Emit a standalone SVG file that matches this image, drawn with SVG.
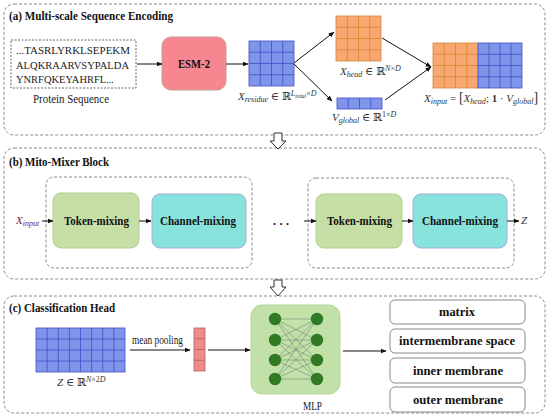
<svg xmlns="http://www.w3.org/2000/svg" width="550" height="419" viewBox="0 0 550 419" font-family="Liberation Serif, Times New Roman, serif">
<style>
.panel{fill:none;stroke:#8a8a8a;stroke-width:1;stroke-dasharray:3,2}
.title{font-family:Liberation Serif,Times New Roman,serif;font-weight:bold;font-size:12.5px;fill:#111}
.seq{font-family:Liberation Serif,Times New Roman,serif;font-size:11px;fill:#222}
.lbl{font-family:Liberation Serif,Times New Roman,serif;font-size:12px;fill:#222}
.bold{font-family:Liberation Serif,Times New Roman,serif;font-weight:bold;font-size:12px;fill:#111}
.m{font-family:Liberation Serif,DejaVu Serif,serif;font-size:11px;fill:#333}
.i{font-style:italic}
.conn{stroke:#111;stroke-width:1;fill:none;marker-end:url(#ah)}
.blue{fill:#7f95ea;stroke:#3f51c8;stroke-width:0.8}
.orange{fill:#faa872;stroke:#cf8a32;stroke-width:0.8}
.tok{fill:#c6dfa6;stroke:#b2cf90;stroke-width:1}
.chan{fill:#88e3dd;stroke:#a3addb;stroke-width:1}
.cls{fill:#fff;stroke:#8a8a8a;stroke-width:1}
.hollow{fill:#fff;stroke:#333;stroke-width:1}
</style>
<defs>
<marker id="ah" viewBox="0 0 10 10" refX="9" refY="5" markerWidth="6" markerHeight="6" orient="auto" markerUnits="userSpaceOnUse">
<path d="M0,1 L10,5 L0,9 z" fill="#111"/>
</marker>
</defs>
<rect width="550" height="419" fill="#fff"/>

<!-- Panels -->
<g id="panel-a">
<rect class="panel" x="4" y="4" width="541" height="131" rx="10"/>
<text class="title" x="9" y="20" textLength="164" lengthAdjust="spacingAndGlyphs">(a) Multi-scale Sequence Encoding</text>
</g>
<g id="panel-b">
<rect class="panel" x="4" y="148" width="541" height="131" rx="10"/>
<text class="title" x="9" y="166" textLength="100" lengthAdjust="spacingAndGlyphs">(b) Mito-Mixer Block</text>
<rect class="panel" x="46" y="177" width="206" height="91" rx="8"/>
<rect class="panel" x="308" y="178" width="206" height="90" rx="8"/>
</g>
<g id="panel-c">
<rect class="panel" x="4" y="296" width="541" height="117" rx="10"/>
<text class="title" x="9" y="312" textLength="106" lengthAdjust="spacingAndGlyphs">(c) Classification Head</text>
</g>

<!-- hollow arrows between panels -->
<g id="flow-arrows">
<polygon class="hollow" points="274,133 282,133 282,141 286,141 278,149 270,141 274,141"/>
<polygon class="hollow" points="274,280 282,280 282,287 286,287 278,296 270,287 274,287"/>
</g>

<!-- (a) nodes -->
<g id="sequence">
<rect x="11" y="40" width="125" height="48" fill="#fff" stroke="#666" stroke-width="1" stroke-dasharray="2,1.5"/>
<text class="seq" x="16" y="54" textLength="114" lengthAdjust="spacingAndGlyphs">...TASRLYRKLSEPEKM</text>
<text class="seq" x="16" y="68.5" textLength="113" lengthAdjust="spacingAndGlyphs">ALQKRAARVSYPALDA</text>
<text class="seq" x="16" y="83" textLength="98" lengthAdjust="spacingAndGlyphs">YNRFQKEYAHRFL...</text>
<text class="lbl" x="33" y="103" textLength="76" lengthAdjust="spacingAndGlyphs">Protein Sequence</text>
</g>
<g id="esm2">
<rect x="162" y="37" width="64" height="53" rx="9" fill="#f88690" stroke="#c99a8e" stroke-width="1"/>
<text class="bold" x="178" y="68" textLength="32" lengthAdjust="spacingAndGlyphs">ESM-2</text>
</g>
<g id="x-residue">
<rect class="blue" x="249" y="41" width="45" height="45"/>
<path d="M260.25,41V86M271.5,41V86M282.75,41V86M249,52.25H294M249,63.5H294M249,74.75H294" stroke="#3f51c8" stroke-width="0.8" fill="none"/>
<text class="m" x="238" y="100"><tspan class="i">X</tspan><tspan class="i" dy="2" font-size="8">residue</tspan><tspan dy="-2"> ∈ ℝ</tspan><tspan class="i" dy="-4" font-size="8">L</tspan><tspan class="i" dy="1.5" font-size="6">total</tspan><tspan dy="-1.5" font-size="8">×</tspan><tspan class="i" font-size="8">D</tspan></text>
</g>
<g id="x-head">
<rect class="orange" x="336" y="16" width="45" height="45"/>
<path d="M347.25,16V61M358.5,16V61M369.75,16V61M336,27.25H381M336,38.5H381M336,49.75H381" stroke="#cf8a32" stroke-width="0.8" fill="none"/>
<text class="m" x="340" y="75"><tspan class="i">X</tspan><tspan class="i" dy="2" font-size="8">head</tspan><tspan dy="-2"> ∈ ℝ</tspan><tspan class="i" dy="-4" font-size="8">N</tspan><tspan font-size="8">×</tspan><tspan class="i" font-size="8">D</tspan></text>
</g>
<g id="v-global">
<rect class="blue" x="337" y="98" width="45" height="11"/>
<path d="M348.25,98V109M359.5,98V109M370.75,98V109" stroke="#3f51c8" stroke-width="0.8" fill="none"/>
<text class="m" x="332" y="121"><tspan class="i">V</tspan><tspan class="i" dy="2" font-size="8">global</tspan><tspan dy="-2"> ∈ ℝ</tspan><tspan dy="-4" font-size="8">1×</tspan><tspan class="i" font-size="8">D</tspan></text>
</g>
<g id="x-input">
<rect class="orange" x="433" y="43" width="45" height="45" fill="#f4a86a"/>
<path d="M444.25,43V88M455.5,43V88M466.75,43V88M433,54.25H478M433,65.5H478M433,76.75H478" stroke="#cf8a32" stroke-width="0.8" fill="none"/>
<rect class="blue" x="478" y="43" width="44" height="45"/>
<path d="M489,43V88M500,43V88M511,43V88M478,54.25H522M478,65.5H522M478,76.75H522" stroke="#3f51c8" stroke-width="0.8" fill="none"/>
<text class="m" x="424" y="102"><tspan class="i">X</tspan><tspan class="i" dy="2" font-size="8">input</tspan><tspan dy="-2"> = </tspan><tspan font-size="14">[</tspan><tspan class="i">X</tspan><tspan class="i" dy="2" font-size="8">head</tspan><tspan dy="-2">; </tspan><tspan font-weight="bold">1</tspan><tspan> · </tspan><tspan class="i">V</tspan><tspan class="i" dy="2" font-size="8">global</tspan><tspan dy="-2" font-size="14">]</tspan></text>
</g>

<!-- (b) nodes -->
<g id="x-input-label">
<text class="m" x="16" y="224" fill="#7a2040"><tspan class="i" fill="#7a2040">X</tspan><tspan class="i" dy="2" font-size="8" fill="#7a2040">input</tspan></text>
</g>
<g id="token-1">
<rect class="tok" x="53" y="193" width="86" height="55" rx="8"/>
<text class="bold" x="64" y="225" textLength="65" lengthAdjust="spacingAndGlyphs">Token-mixing</text>
</g>
<g id="channel-1">
<rect class="chan" x="152" y="194" width="94" height="54" rx="8"/>
<text class="bold" x="160" y="225" textLength="76" lengthAdjust="spacingAndGlyphs">Channel-mixing</text>
</g>
<g id="ellipsis">
<text class="bold" x="273" y="225" textLength="16" lengthAdjust="spacing">...</text>
</g>
<g id="token-2">
<rect class="tok" x="316" y="194" width="86" height="54" rx="8"/>
<text class="bold" x="327" y="225" textLength="65" lengthAdjust="spacingAndGlyphs">Token-mixing</text>
</g>
<g id="channel-2">
<rect class="chan" x="413" y="194" width="94" height="54" rx="8"/>
<text class="bold" x="422" y="225" textLength="76" lengthAdjust="spacingAndGlyphs">Channel-mixing</text>
</g>
<g id="z-label">
<text class="m i" x="521" y="224">Z</text>
</g>

<!-- (c) nodes -->
<g id="z-grid">
<rect class="blue" x="36" y="328" width="89" height="44"/>
<path d="M47.125,328V372M58.25,328V372M69.375,328V372M80.5,328V372M91.625,328V372M102.75,328V372M113.875,328V372M36,339H125M36,350H125M36,361H125" stroke="#3f51c8" stroke-width="0.8" fill="none"/>
<text class="m" x="57" y="386" fill="#6a2a3a"><tspan class="i">Z</tspan><tspan> ∈ ℝ</tspan><tspan class="i" dy="-4" font-size="8">N</tspan><tspan font-size="8">×2</tspan><tspan class="i" font-size="8">D</tspan></text>
</g>
<g id="pool">
<rect x="194" y="328" width="11" height="43" fill="#f28a8a" stroke="#a06a5a" stroke-width="0.8"/>
<path d="M194,338.75H205M194,349.5H205M194,360.25H205" stroke="#a06a5a" stroke-width="0.8"/>
</g>
<g id="mlp">
<rect x="251" y="305" width="89" height="89" rx="11" fill="#c2e1a9" stroke="#b4d79a" stroke-width="1"/>
<g stroke="#6f8a78" stroke-width="0.6">
<path d="M275,319L317,319M275,319L317,340M275,319L317,360M275,319L317,379M275,340L317,319M275,340L317,340M275,340L317,360M275,340L317,379M275,360L317,319M275,360L317,340M275,360L317,360M275,360L317,379M275,379L317,319M275,379L317,340M275,379L317,360M275,379L317,379"/>
</g>
<g fill="#2f7a22">
<circle cx="275" cy="319" r="6.2"/><circle cx="275" cy="340" r="6.2"/><circle cx="275" cy="360" r="6.2"/><circle cx="275" cy="379" r="6.2"/>
<circle cx="317" cy="319" r="6.2"/><circle cx="317" cy="340" r="6.2"/><circle cx="317" cy="360" r="6.2"/><circle cx="317" cy="379" r="6.2"/>
</g>
<text class="lbl" x="303" y="410" textLength="19" lengthAdjust="spacingAndGlyphs">MLP</text>
</g>
<g id="class-matrix">
<rect class="cls" x="390" y="300" width="135" height="24" rx="5"/>
<text class="bold" x="439" y="316" textLength="36" lengthAdjust="spacingAndGlyphs">matrix</text>
</g>
<g id="class-intermembrane">
<rect class="cls" x="390" y="329" width="135" height="24" rx="5"/>
<text class="bold" x="399" y="345" textLength="116" lengthAdjust="spacingAndGlyphs">intermembrane space</text>
</g>
<g id="class-inner">
<rect class="cls" x="390" y="358" width="135" height="25" rx="5"/>
<text class="bold" x="413" y="374.5" textLength="90" lengthAdjust="spacingAndGlyphs">inner membrane</text>
</g>
<g id="class-outer">
<rect class="cls" x="390" y="387" width="135" height="25" rx="5"/>
<text class="bold" x="413" y="403.5" textLength="90" lengthAdjust="spacingAndGlyphs">outer membrane</text>
</g>

<!-- connectors -->
<g id="connectors">
<line class="conn" x1="137" y1="64" x2="162" y2="64"/>
<line class="conn" x1="226" y1="64" x2="248" y2="64"/>
<line class="conn" x1="294" y1="63" x2="334" y2="32"/>
<line class="conn" x1="294" y1="64" x2="332" y2="101"/>
<line class="conn" x1="382" y1="38" x2="431" y2="67"/>
<line class="conn" x1="385" y1="100" x2="431" y2="67"/>
<line class="conn" x1="42" y1="221" x2="53" y2="221"/>
<line class="conn" x1="139" y1="221" x2="151" y2="221"/>
<line class="conn" x1="304" y1="221" x2="316" y2="221"/>
<line class="conn" x1="402" y1="221" x2="413" y2="221"/>
<line class="conn" x1="507" y1="221" x2="519" y2="221"/>
<line class="conn" x1="130" y1="350" x2="190" y2="350"/>
<text class="lbl" x="132" y="344" font-size="11" textLength="51" lengthAdjust="spacingAndGlyphs">mean pooling</text>
<line class="conn" x1="208" y1="350" x2="250" y2="350"/>
<line class="conn" x1="343" y1="351" x2="386" y2="351"/>
</g>
</svg>
